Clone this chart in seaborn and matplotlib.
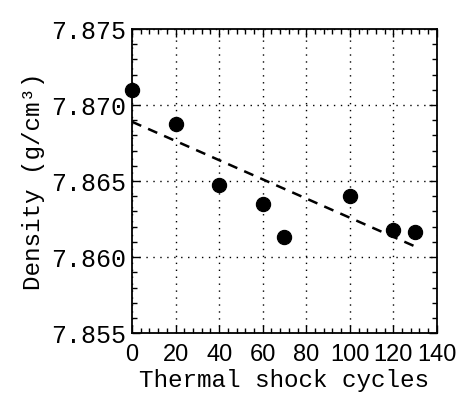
import numpy as np
import pandas as pd
import seaborn as sns
import matplotlib.pyplot as plt
from matplotlib.ticker import MultipleLocator, FormatStrFormatter

# measured density after thermal shock
cycles = [0, 20, 40, 60, 70, 100, 120, 130]
density = [7.8710, 7.86875, 7.86474, 7.86349, 7.86132, 7.8640, 7.86178, 7.86164]

# dashed trend line
fit_cycles = [0, 130]
fit_density = [7.8689, 7.8607]

df = pd.DataFrame({"cycles": cycles, "density": density})
fit = pd.DataFrame({"cycles": fit_cycles, "density": fit_density})

sns.set_style("ticks")
plt.rcParams['font.family'] = ['Liberation Mono', 'DejaVu Sans']

fig = plt.figure(figsize=(4.57, 3.98), dpi=100)
ax = fig.add_axes([0.289, 0.163, 0.667, 0.764])

sns.lineplot(data=fit, x="cycles", y="density", ax=ax, color="black",
             linewidth=1.8, dashes=False, linestyle=(0, (4, 3)))
sns.scatterplot(data=df, x="cycles", y="density", ax=ax, color="black",
                s=105, edgecolor="black", zorder=5, clip_on=False)

ax.set_xlim(0, 140)
ax.set_ylim(7.855, 7.875)
ax.xaxis.set_major_locator(MultipleLocator(20))
ax.xaxis.set_minor_locator(MultipleLocator(4))
ax.yaxis.set_major_locator(MultipleLocator(0.005))
ax.yaxis.set_minor_locator(MultipleLocator(0.001))
ax.yaxis.set_major_formatter(FormatStrFormatter('%.3f'))

ax.grid(True, which="major", color="black", linestyle=(0, (1, 4)), linewidth=1.0)
ax.tick_params(which="both", direction="in", top=True, right=True, colors="black",
               labelsize=18, width=1.0)
ax.tick_params(which="major", length=6, pad=4)
ax.tick_params(axis="x", which="major", pad=8)
ax.tick_params(which="minor", length=3.5)
for s in ax.spines.values():
    s.set_color("black")
    s.set_linewidth(1.3)

# x tick labels are narrow digits in the original
fig.canvas.draw()
for lab in ax.get_xticklabels():
    lab.set_fontfamily(['Liberation Sans Narrow', 'Liberation Sans'])
    lab.set_fontsize(17)

ax.set_xlabel("Thermal shock cycles", fontsize=17.5, labelpad=2, color="black")
ax.set_ylabel("Density (g/cm³)", fontsize=17.5, labelpad=5, color="black")

fig.savefig("out.png", dpi=100)
